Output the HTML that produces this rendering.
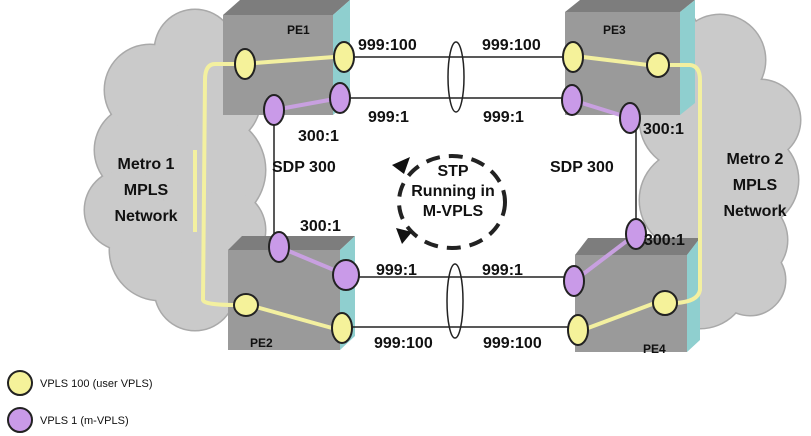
<!DOCTYPE html>
<html><head><style>body{margin:0;background:#fff}svg{display:block}text{font-family:"Liberation Sans",sans-serif;font-weight:bold;fill:#111}</style></head><body>
<svg width="811" height="436" viewBox="0 0 811 436">
<defs>
<g id="cl">
<circle cx="195" cy="50" r="40"/><circle cx="150" cy="90" r="45"/><circle cx="215" cy="100" r="45"/><circle cx="140" cy="150" r="45"/><circle cx="210" cy="170" r="55"/><circle cx="125" cy="210" r="40"/><circle cx="160" cy="250" r="50"/><circle cx="195" cy="290" r="40"/><circle cx="225" cy="230" r="40"/>
<circle cx="660" cy="40" r="40"/><circle cx="720" cy="60" r="45"/><circle cx="760" cy="120" r="40"/><circle cx="690" cy="120" r="50"/><circle cx="750" cy="180" r="48"/><circle cx="690" cy="200" r="50"/><circle cx="745" cy="240" r="42"/><circle cx="700" cy="280" r="48"/><circle cx="750" cy="280" r="35"/>
</g>
</defs>
<use href="#cl" fill="#a9a9a9" stroke="#a9a9a9" stroke-width="3"/>
<use href="#cl" fill="#cacaca"/>
<!-- boxes -->
<g>
<polygon points="223,15 240,0 350,0 333,15" fill="#7d7d7d"/><rect x="223" y="15" width="110" height="100" fill="#9a9a9a"/><polygon points="333,15 350,0 350,100 333,115" fill="#8fcfcf"/>
<polygon points="565,12 580,0 695,0 680,12" fill="#7d7d7d"/><rect x="565" y="12" width="115" height="103" fill="#9a9a9a"/><polygon points="680,12 695,0 695,103 680,115" fill="#8fcfcf"/>
<polygon points="228,250 242,236 355,236 340,250" fill="#7d7d7d"/><rect x="228" y="250" width="112" height="100" fill="#9a9a9a"/><polygon points="340,250 355,236 355,336 340,350" fill="#8fcfcf"/>
<polygon points="575,255 588,238 700,238 687,255" fill="#7d7d7d"/><rect x="575" y="255" width="112" height="97" fill="#9a9a9a"/><polygon points="687,255 700,238 700,340 687,352" fill="#8fcfcf"/>
</g>
<g fill="none" stroke="#f3f0a0" stroke-width="4">
<path d="M235,64 L215,64 Q205,64 205,80 L203,300 Q204,305 236,305"/>
<path d="M255,63 L334,57"/><path d="M256,307 L332,328"/>
<path d="M583,57 L648,65"/><path d="M588,328 L655,303"/>
<path d="M668,65 L690,65 Q700,66 700,80 L700,290 Q698,302 675,303"/>
<path d="M195,150 L195,232"/>
</g>
<g stroke="#c8a0e0" stroke-width="4"><path d="M274,110 L340,98"/><path d="M572,100 L630,118"/><path d="M279,247 L346,275"/><path d="M574,281 L636,234"/></g>
<g stroke="#222" stroke-width="1.5" fill="none">
<path d="M354,57 H563 M350,98 H562 M356,277 H564 M352,327 H568 M274,120 V237 M636,128 V225"/>
<ellipse cx="456" cy="77" rx="8" ry="35"/><ellipse cx="455" cy="301" rx="8" ry="37"/>
<ellipse cx="452" cy="202" rx="53" ry="46" stroke-width="4" stroke-dasharray="14,9"/>
</g>
<polygon points="392,165 410,157 404,174" fill="#111"/><polygon points="396,228 412,232 402,244" fill="#111"/>
<g stroke="#222" stroke-width="2" fill="#f5f29a">
<ellipse cx="245" cy="64" rx="10" ry="15"/><ellipse cx="344" cy="57" rx="10" ry="15"/><ellipse cx="573" cy="57" rx="10" ry="15"/><ellipse cx="658" cy="65" rx="11" ry="12"/>
<ellipse cx="246" cy="305" rx="12" ry="11"/><ellipse cx="342" cy="328" rx="10" ry="15"/><ellipse cx="578" cy="330" rx="10" ry="15"/><ellipse cx="665" cy="303" rx="12" ry="12"/>
<ellipse cx="20" cy="383" rx="12" ry="12"/>
</g>
<g stroke="#222" stroke-width="2" fill="#c99ae8">
<ellipse cx="274" cy="110" rx="10" ry="15"/><ellipse cx="340" cy="98" rx="10" ry="15"/><ellipse cx="572" cy="100" rx="10" ry="15"/><ellipse cx="630" cy="118" rx="10" ry="15"/>
<ellipse cx="279" cy="247" rx="10" ry="15"/><ellipse cx="346" cy="275" rx="13" ry="15"/><ellipse cx="574" cy="281" rx="10" ry="15"/><ellipse cx="636" cy="234" rx="10" ry="15"/>
<ellipse cx="20" cy="420" rx="12" ry="12"/>
</g>
<g font-size="16">
<text x="358" y="50">999:100</text><text x="482" y="50">999:100</text>
<text x="368" y="122">999:1</text><text x="483" y="122">999:1</text>
<text x="298" y="141">300:1</text><text x="272" y="172">SDP 300</text>
<text x="643" y="134">300:1</text><text x="550" y="172">SDP 300</text>
<text x="300" y="231">300:1</text><text x="644" y="245">300:1</text>
<text x="376" y="275">999:1</text><text x="482" y="275">999:1</text>
<text x="374" y="348">999:100</text><text x="483" y="348">999:100</text>
<text x="453" y="176" text-anchor="middle">STP</text><text x="453" y="196" text-anchor="middle">Running in</text><text x="453" y="216" text-anchor="middle">M-VPLS</text>
<text x="146" y="169" text-anchor="middle">Metro 1</text><text x="146" y="195" text-anchor="middle">MPLS</text><text x="146" y="221" text-anchor="middle">Network</text>
<text x="755" y="164" text-anchor="middle">Metro 2</text><text x="755" y="190" text-anchor="middle">MPLS</text><text x="755" y="216" text-anchor="middle">Network</text>
</g>
<g font-size="12"><text x="287" y="34">PE1</text><text x="603" y="34">PE3</text><text x="250" y="347">PE2</text><text x="643" y="353">PE4</text></g>
<g font-size="11"><text x="40" y="387" style="font-weight:normal">VPLS 100 (user VPLS)</text><text x="40" y="424" style="font-weight:normal">VPLS 1 (m-VPLS)</text></g>
</svg>
</body></html>
